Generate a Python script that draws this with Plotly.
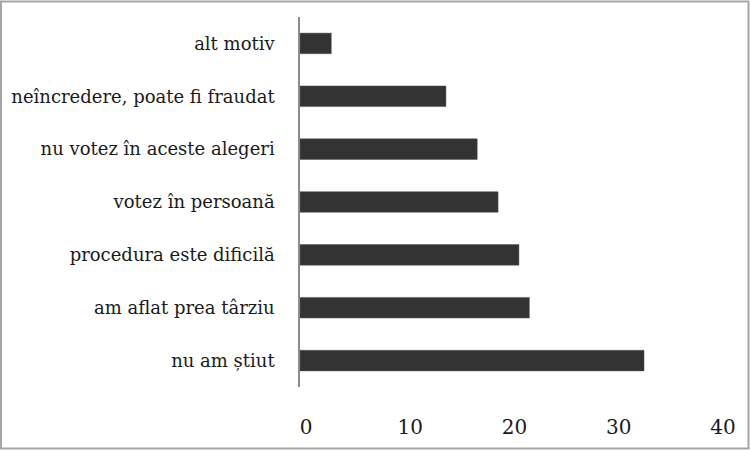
import plotly.graph_objects as go

# categories top -> bottom as in the picture
motive = ['alt motiv', 'neîncredere, poate fi fraudat', 'nu votez în aceste alegeri',
          'votez în persoană', 'procedura este dificilă', 'am aflat prea târziu', 'nu am știut']
valori = [3, 14, 17, 19, 21, 22, 33]
x_ticks = [0, 10, 20, 30, 40]

font_name = 'DejaVu Serif'

W, H = 750, 450
ML, MR, MT, MB = 300, 33, 17, 63
pw, ph = W - ML - MR, H - MT - MB

fig = go.Figure(go.Bar(
    x=valori,
    y=motive,
    orientation='h',
    marker=dict(color='#333333', line=dict(color='#555555', width=0.5)),
    width=0.39,
))

fig.update_layout(
    width=W, height=H,
    margin=dict(l=ML, r=MR, t=MT, b=MB, autoexpand=False),
    paper_bgcolor='white', plot_bgcolor='white',
    showlegend=False,
    font=dict(family=font_name, color='#1a1a1a'),
    shapes=[dict(type='rect', xref='paper', yref='paper',
                 x0=(1 - ML) / pw, x1=(W - ML - 1.5) / pw,
                 y0=(1.5 - MB) / ph, y1=(H - MB - 1.5) / ph,
                 line=dict(color='#a6a6a6', width=2), layer='below')],
)

fig.update_xaxes(
    range=[0, 40], tickvals=x_ticks, showgrid=False, zeroline=False,
    showline=False, automargin=False,
    tickfont=dict(size=20, family=font_name),
    ticklabelstandoff=26, ticklabelshift=6,
)
fig.update_yaxes(
    categoryorder='array', categoryarray=motive[::-1],
    showgrid=False, zeroline=False, automargin=False,
    showline=True, linecolor='#8c8c8c', linewidth=1.5,
    tickfont=dict(size=18, family=font_name),
    ticklabelstandoff=20,
)

# page body has a default 8px margin; drop it so the figure fills the window
fig.write_html('out.html', config={'displayModeBar': False},
               post_script="document.body.style.margin='0';")
